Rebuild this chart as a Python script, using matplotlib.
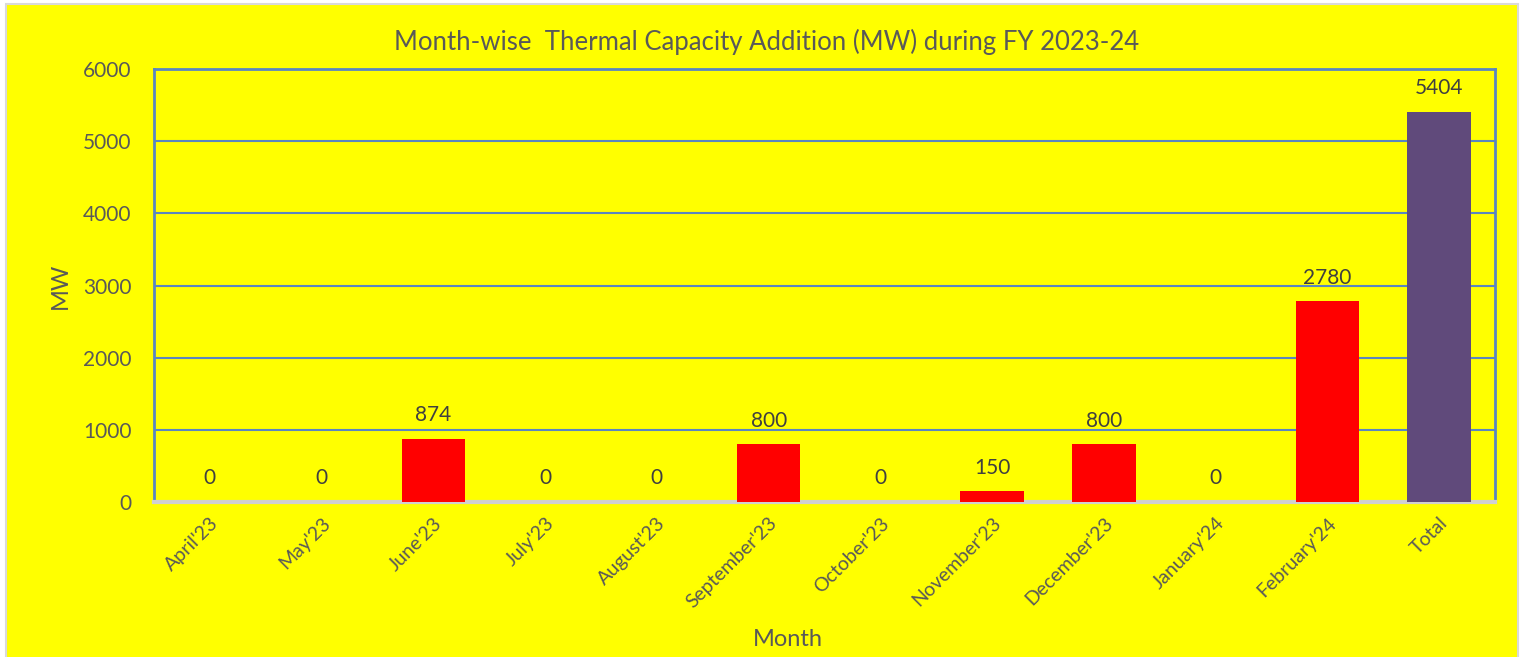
import matplotlib.pyplot as plt
from matplotlib.patches import Rectangle

months = ["April'23", "May'23", "June'23", "July'23", "August'23", "September'23",
          "October'23", "November'23", "December'23", "January'24", "February'24", "Total"]
capacity = [0, 0, 874, 0, 0, 800, 0, 150, 800, 0, 2780, 5404]
bar_colors = ["#ff0000"] * 11 + ["#604a7b"]

plt.rcParams['font.family'] = ['Lato', 'DejaVu Sans']
txt = "#595959"
blue = "#5a86c0"

fig = plt.figure(figsize=(15.27, 6.57), dpi=100)
fig.patch.set_facecolor("white")
# yellow chart area with grey border (runs off the bottom edge)
fig.patches.append(Rectangle((6/1527, -0.02), 1512/1527, 1.02 - 4/657, transform=fig.transFigure,
                             facecolor="#ffff00", edgecolor="#d9d9d9", linewidth=1.5, zorder=-10))

ax = fig.add_axes([154/1527, 1 - 502/657, (1495 - 154)/1527, (502 - 69)/657])
ax.set_facecolor("#ffff00")
x = range(len(months))
ax.bar(x, capacity, width=0.57, color=bar_colors, zorder=3)
for i, v in enumerate(capacity):
    ax.annotate(str(v), (i, v), xytext=(0, 17), textcoords="offset points",
                ha="center", va="center", fontsize=15, color="#404040")

ax.set_ylim(0, 6000)
ax.set_xlim(-0.5, len(months) - 0.5)
ax.set_yticks(range(0, 6001, 1000))
ax.yaxis.grid(True, color=blue, linewidth=1.5, zorder=0)
ax.set_axisbelow(True)
ax.tick_params(axis="y", length=0, labelsize=15, labelcolor=txt, pad=16)
ax.set_xticks(list(x))
ax.set_xticklabels(months, rotation=45, ha="right", va="top", rotation_mode="anchor",
                   fontsize=14, color=txt)
ax.tick_params(axis="x", length=0, pad=9)
for s in ["top", "left", "right"]:
    ax.spines[s].set_color(blue)
    ax.spines[s].set_linewidth(2)
ax.spines["bottom"].set_color("#d0d0d0")
ax.spines["bottom"].set_linewidth(3)

ax.set_ylabel("MW", fontsize=17, color=txt, labelpad=9)
ax.set_xlabel("Month", fontsize=17, color=txt)
ax.xaxis.set_label_coords((788 - 154)/(1495 - 154), -(629 - 502)/(502 - 69))
fig.text(767/1527, 1 - 42/657, "Month-wise  Thermal Capacity Addition (MW) during FY 2023-24",
         ha="center", va="center", fontsize=18.5, color=txt)

fig.savefig("out.png", dpi=100)
